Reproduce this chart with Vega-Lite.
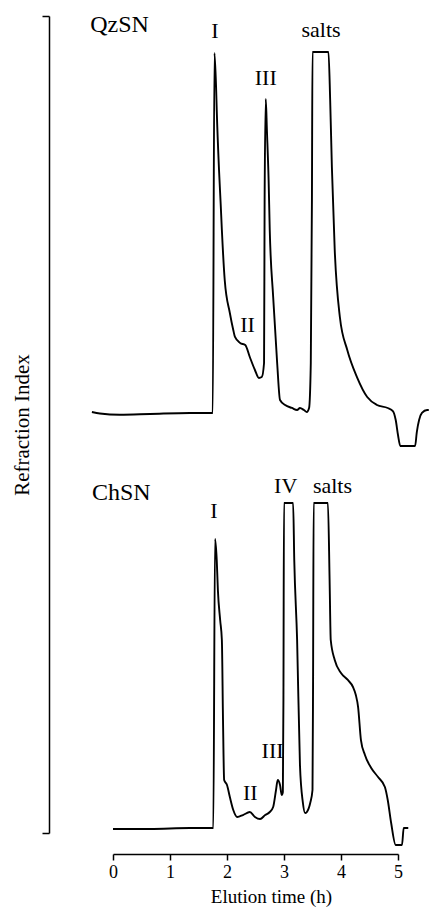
{
  "$schema": "https://vega.github.io/schema/vega-lite/v6.json",
  "width": 285,
  "height": 817,
  "autosize": {"type": "none"},
  "padding": {"left": 113, "top": 16, "right": 31, "bottom": 79},
  "background": "white",
  "config": {
    "view": {"stroke": null},
    "font": "Liberation Serif",
    "axis": {
      "grid": false,
      "domainColor": "black",
      "tickColor": "black",
      "labelColor": "black",
      "titleColor": "black",
      "labelFont": "Liberation Serif",
      "titleFont": "Liberation Serif",
      "titleFontWeight": "normal"
    }
  },
  "datasets": {
    "traces": [
      {"sample": "QzSN", "t": -0.37, "ri": 51.53},
      {"sample": "QzSN", "t": -0.23, "ri": 51.35},
      {"sample": "QzSN", "t": 0.12, "ri": 51.2},
      {"sample": "QzSN", "t": 0.65, "ri": 51.29},
      {"sample": "QzSN", "t": 1.35, "ri": 51.41},
      {"sample": "QzSN", "t": 1.75, "ri": 51.41},
      {"sample": "QzSN", "t": 1.78, "ri": 95.47},
      {"sample": "QzSN", "t": 1.81, "ri": 90.94},
      {"sample": "QzSN", "t": 1.82, "ri": 88.49},
      {"sample": "QzSN", "t": 1.86, "ri": 81.15},
      {"sample": "QzSN", "t": 1.89, "ri": 76.87},
      {"sample": "QzSN", "t": 1.91, "ri": 73.81},
      {"sample": "QzSN", "t": 1.96, "ri": 67.69},
      {"sample": "QzSN", "t": 2.05, "ri": 63.65},
      {"sample": "QzSN", "t": 2.11, "ri": 61.57},
      {"sample": "QzSN", "t": 2.14, "ri": 60.71},
      {"sample": "QzSN", "t": 2.23, "ri": 59.98},
      {"sample": "QzSN", "t": 2.32, "ri": 59.73},
      {"sample": "QzSN", "t": 2.40, "ri": 58.26},
      {"sample": "QzSN", "t": 2.49, "ri": 56.67},
      {"sample": "QzSN", "t": 2.56, "ri": 55.69},
      {"sample": "QzSN", "t": 2.61, "ri": 55.81},
      {"sample": "QzSN", "t": 2.65, "ri": 57.53},
      {"sample": "QzSN", "t": 2.66, "ri": 77.48},
      {"sample": "QzSN", "t": 2.68, "ri": 89.84},
      {"sample": "QzSN", "t": 2.70, "ri": 86.05},
      {"sample": "QzSN", "t": 2.73, "ri": 79.93},
      {"sample": "QzSN", "t": 2.75, "ri": 73.81},
      {"sample": "QzSN", "t": 2.81, "ri": 65.61},
      {"sample": "QzSN", "t": 2.88, "ri": 57.53},
      {"sample": "QzSN", "t": 2.93, "ri": 53.00},
      {"sample": "QzSN", "t": 3.02, "ri": 52.39},
      {"sample": "QzSN", "t": 3.14, "ri": 52.02},
      {"sample": "QzSN", "t": 3.23, "ri": 51.77},
      {"sample": "QzSN", "t": 3.28, "ri": 52.02},
      {"sample": "QzSN", "t": 3.35, "ri": 51.77},
      {"sample": "QzSN", "t": 3.40, "ri": 51.53},
      {"sample": "QzSN", "t": 3.44, "ri": 52.02},
      {"sample": "QzSN", "t": 3.47, "ri": 57.53},
      {"sample": "QzSN", "t": 3.49, "ri": 77.48},
      {"sample": "QzSN", "t": 3.50, "ri": 95.59},
      {"sample": "QzSN", "t": 3.78, "ri": 95.59},
      {"sample": "QzSN", "t": 3.81, "ri": 89.72},
      {"sample": "QzSN", "t": 3.84, "ri": 81.52},
      {"sample": "QzSN", "t": 3.89, "ri": 71.36},
      {"sample": "QzSN", "t": 3.98, "ri": 63.16},
      {"sample": "QzSN", "t": 4.11, "ri": 59.12},
      {"sample": "QzSN", "t": 4.28, "ri": 55.81},
      {"sample": "QzSN", "t": 4.46, "ri": 53.37},
      {"sample": "QzSN", "t": 4.63, "ri": 52.39},
      {"sample": "QzSN", "t": 4.82, "ri": 52.02},
      {"sample": "QzSN", "t": 4.91, "ri": 51.65},
      {"sample": "QzSN", "t": 4.96, "ri": 50.55},
      {"sample": "QzSN", "t": 5.00, "ri": 48.71},
      {"sample": "QzSN", "t": 5.04, "ri": 47.37},
      {"sample": "QzSN", "t": 5.30, "ri": 47.37},
      {"sample": "QzSN", "t": 5.33, "ri": 49.08},
      {"sample": "QzSN", "t": 5.37, "ri": 50.55},
      {"sample": "QzSN", "t": 5.42, "ri": 51.41},
      {"sample": "QzSN", "t": 5.51, "ri": 51.77},
      {"sample": "QzSN", "t": 5.54, "ri": 51.77},

      {"sample": "ChSN", "t": 0.00, "ri": 0.49},
      {"sample": "ChSN", "t": 0.65, "ri": 0.49},
      {"sample": "ChSN", "t": 1.35, "ri": 0.61},
      {"sample": "ChSN", "t": 1.76, "ri": 0.61},
      {"sample": "ChSN", "t": 1.79, "ri": 35.99},
      {"sample": "ChSN", "t": 1.82, "ri": 33.41},
      {"sample": "ChSN", "t": 1.84, "ri": 29.74},
      {"sample": "ChSN", "t": 1.88, "ri": 26.07},
      {"sample": "ChSN", "t": 1.91, "ri": 23.62},
      {"sample": "ChSN", "t": 1.93, "ri": 13.83},
      {"sample": "ChSN", "t": 1.95, "ri": 6.49},
      {"sample": "ChSN", "t": 2.00, "ri": 5.88},
      {"sample": "ChSN", "t": 2.05, "ri": 4.41},
      {"sample": "ChSN", "t": 2.11, "ri": 2.82},
      {"sample": "ChSN", "t": 2.18, "ri": 1.96},
      {"sample": "ChSN", "t": 2.28, "ri": 2.20},
      {"sample": "ChSN", "t": 2.40, "ri": 2.57},
      {"sample": "ChSN", "t": 2.49, "ri": 1.96},
      {"sample": "ChSN", "t": 2.58, "ri": 1.71},
      {"sample": "ChSN", "t": 2.67, "ri": 2.20},
      {"sample": "ChSN", "t": 2.75, "ri": 2.57},
      {"sample": "ChSN", "t": 2.81, "ri": 3.18},
      {"sample": "ChSN", "t": 2.86, "ri": 5.26},
      {"sample": "ChSN", "t": 2.89, "ri": 6.49},
      {"sample": "ChSN", "t": 2.93, "ri": 5.88},
      {"sample": "ChSN", "t": 2.96, "ri": 4.65},
      {"sample": "ChSN", "t": 2.98, "ri": 5.02},
      {"sample": "ChSN", "t": 2.99, "ri": 16.28},
      {"sample": "ChSN", "t": 3.00, "ri": 40.39},
      {"sample": "ChSN", "t": 3.16, "ri": 40.39},
      {"sample": "ChSN", "t": 3.18, "ri": 33.41},
      {"sample": "ChSN", "t": 3.23, "ri": 23.62},
      {"sample": "ChSN", "t": 3.28, "ri": 8.32},
      {"sample": "ChSN", "t": 3.33, "ri": 3.79},
      {"sample": "ChSN", "t": 3.37, "ri": 2.45},
      {"sample": "ChSN", "t": 3.40, "ri": 2.57},
      {"sample": "ChSN", "t": 3.46, "ri": 3.67},
      {"sample": "ChSN", "t": 3.50, "ri": 5.26},
      {"sample": "ChSN", "t": 3.51, "ri": 18.73},
      {"sample": "ChSN", "t": 3.52, "ri": 40.39},
      {"sample": "ChSN", "t": 3.77, "ri": 40.39},
      {"sample": "ChSN", "t": 3.80, "ri": 30.97},
      {"sample": "ChSN", "t": 3.82, "ri": 23.62},
      {"sample": "ChSN", "t": 3.89, "ri": 21.18},
      {"sample": "ChSN", "t": 4.00, "ri": 19.58},
      {"sample": "ChSN", "t": 4.12, "ri": 18.73},
      {"sample": "ChSN", "t": 4.21, "ri": 17.87},
      {"sample": "ChSN", "t": 4.26, "ri": 16.89},
      {"sample": "ChSN", "t": 4.30, "ri": 15.42},
      {"sample": "ChSN", "t": 4.35, "ri": 11.38},
      {"sample": "ChSN", "t": 4.42, "ri": 9.55},
      {"sample": "ChSN", "t": 4.53, "ri": 7.96},
      {"sample": "ChSN", "t": 4.65, "ri": 6.85},
      {"sample": "ChSN", "t": 4.77, "ri": 5.63},
      {"sample": "ChSN", "t": 4.82, "ri": 4.04},
      {"sample": "ChSN", "t": 4.88, "ri": 1.22},
      {"sample": "ChSN", "t": 4.96, "ri": -1.47},
      {"sample": "ChSN", "t": 5.07, "ri": -1.47},
      {"sample": "ChSN", "t": 5.10, "ri": 0.61},
      {"sample": "ChSN", "t": 5.18, "ri": 0.61}
    ],
    "samples": [
      {"name": "QzSN", "t": -0.40, "ri": 98.0},
      {"name": "ChSN", "t": -0.37, "ri": 40.8}
    ],
    "peaks": [
      {"peak": "I", "t": 1.79, "ri": 97.3},
      {"peak": "III", "t": 2.68, "ri": 91.6},
      {"peak": "II", "t": 2.36, "ri": 61.3},
      {"peak": "salts", "t": 3.65, "ri": 97.4},
      {"peak": "I", "t": 1.77, "ri": 38.6},
      {"peak": "IV", "t": 3.03, "ri": 41.6},
      {"peak": "salts", "t": 3.85, "ri": 41.6},
      {"peak": "III", "t": 2.80, "ri": 9.2},
      {"peak": "II", "t": 2.41, "ri": 4.0}
    ]
  },
  "layer": [
    {
      "data": {"name": "traces"},
      "mark": {"type": "line", "color": "black", "strokeWidth": 1.9, "strokeJoin": "round", "interpolate": "monotone"},
      "encoding": {
        "x": {
          "field": "t",
          "type": "quantitative",
          "scale": {"domain": [0, 5], "nice": false, "zero": false},
          "axis": {
            "title": "Elution time (h)",
            "values": [0, 1, 2, 3, 4, 5],
            "format": "d",
            "offset": 21,
            "tickSize": 6,
            "domainWidth": 1.5,
            "tickWidth": 1.5,
            "labelFontSize": 18,
            "labelPadding": 3,
            "labelFlush": false,
            "titleFontSize": 19,
            "titlePadding": 6,
            "titleX": 158
          }
        },
        "y": {
          "field": "ri",
          "type": "quantitative",
          "scale": {"domain": [0, 100], "nice": false, "zero": false},
          "axis": {
            "title": "Refraction Index",
            "values": [0, 100],
            "labels": false,
            "offset": 64,
            "tickSize": 7,
            "domainWidth": 1.5,
            "tickWidth": 1.5,
            "titleFontSize": 21,
            "titlePadding": 9
          }
        },
        "detail": {"field": "sample"}
      }
    },
    {
      "data": {"name": "samples"},
      "mark": {"type": "text", "align": "left", "baseline": "alphabetic", "fontSize": 24, "color": "black"},
      "encoding": {
        "x": {"field": "t", "type": "quantitative", "scale": {"domain": [0, 5], "nice": false, "zero": false}},
        "y": {"field": "ri", "type": "quantitative", "scale": {"domain": [0, 100], "nice": false, "zero": false}},
        "text": {"field": "name"}
      }
    },
    {
      "data": {"name": "peaks"},
      "mark": {"type": "text", "align": "center", "baseline": "alphabetic", "fontSize": 22, "color": "black"},
      "encoding": {
        "x": {"field": "t", "type": "quantitative", "scale": {"domain": [0, 5], "nice": false, "zero": false}},
        "y": {"field": "ri", "type": "quantitative", "scale": {"domain": [0, 100], "nice": false, "zero": false}},
        "text": {"field": "peak"}
      }
    }
  ]
}
